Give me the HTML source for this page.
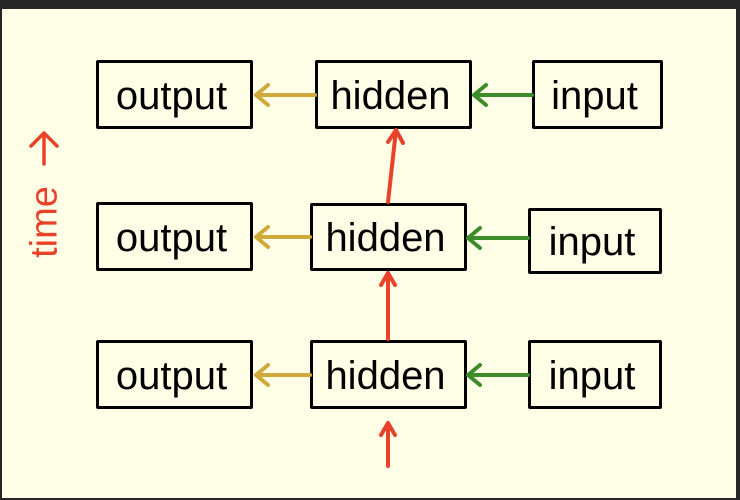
<!DOCTYPE html>
<html><head><style>
body{margin:0;width:740px;height:500px;background:#262626;overflow:hidden;position:relative;font-family:"Liberation Sans",sans-serif}
#p{position:absolute;left:2px;top:9px;width:734px;height:489px;background:#fefee6}
.b{position:absolute;border:3px solid #000;border-radius:2px;box-sizing:border-box;font-size:40px;line-height:1;display:flex;align-items:center;justify-content:center;color:#000;padding-right:6px;padding-top:2px}
#t{position:absolute;left:45px;top:222px;transform:translate(-50%,-50%) rotate(-90deg);color:#e8432a;font-size:38px;white-space:nowrap}
</style></head><body>
<div id="p"></div>
<div class="b" style="left:96px;top:60px;width:157px;height:69px">output</div>
<div class="b" style="left:315px;top:60px;width:157px;height:69px">hidden</div>
<div class="b" style="left:532px;top:60px;width:131px;height:69px">input</div>
<div class="b" style="left:96px;top:202px;width:157px;height:69px">output</div>
<div class="b" style="left:310px;top:203px;width:157px;height:68px">hidden</div>
<div class="b" style="left:528px;top:208px;width:134px;height:66px">input</div>
<div class="b" style="left:96px;top:340px;width:157px;height:69px">output</div>
<div class="b" style="left:310px;top:340px;width:157px;height:69px">hidden</div>
<div class="b" style="left:528px;top:340px;width:134px;height:69px">input</div>
<div id="t">time</div>
<svg width="740" height="500" style="position:absolute;left:0;top:0" fill="none" stroke-width="4" stroke-linecap="round" stroke-linejoin="round">
<g stroke="#e8432a" stroke-width="3.5"><path d="M44 164V133M31 146L44 133L57 146"/></g>
<g stroke="#cfa93a">
<path d="M315 95H256M268 85L256 95L268 105"/>
<path d="M310 237H256M268 227L256 237L268 247"/>
<path d="M310 375H256M268 365L256 375L268 385"/>
</g>
<g stroke="#3d8c2a">
<path d="M532 95H474M486 85L474 95L486 105"/>
<path d="M528 238H468M480 228L468 238L480 248"/>
<path d="M528 375H468M480 365L468 375L480 385"/>
</g>
<g stroke="#e8432a">
<path d="M388 202L396 130M388 142L396 130L403 143"/>
<path d="M388 339V273M381 285L388 273L395 285"/>
<path d="M388 466V423M381 435L388 423L395 435"/>
</g>
</svg>
</body></html>
